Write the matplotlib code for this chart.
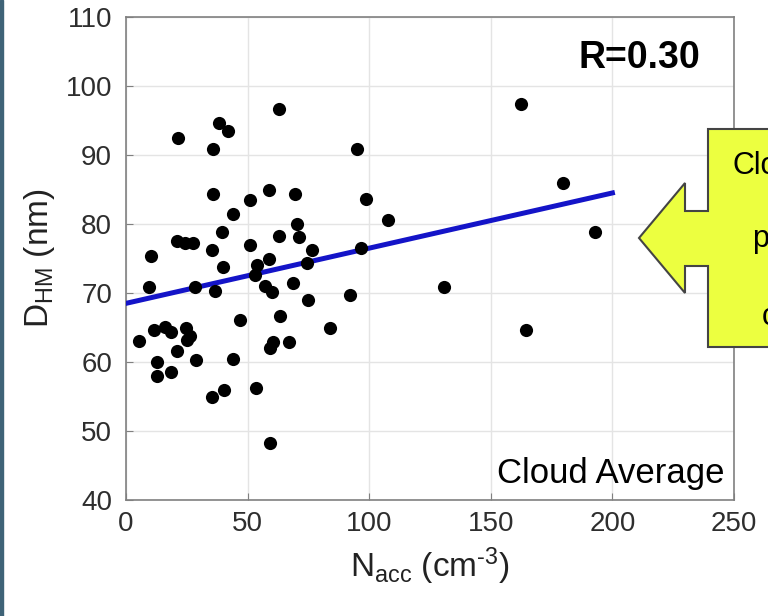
import numpy as np
import matplotlib
matplotlib.use('Agg')
import matplotlib.pyplot as plt
from matplotlib.patches import Polygon, Rectangle

# accumulation mode number conc. (cm^-3) vs Hoppel minimum diameter (nm), cloud averages
n_acc = [5.5, 9.5, 10.3, 11.5, 12.6, 12.6, 16.0, 18.4, 18.5, 21.1,
         21.1, 21.5, 24.3, 24.5, 25.2, 26.3, 27.7, 28.4, 28.8, 35.5,
         35.5, 35.9, 35.9, 36.6, 38.4, 39.6, 40.0, 40.3, 42.1, 44.1,
         44.1, 46.9, 51.0, 51.0, 53.0, 53.3, 53.7, 57.2, 58.9, 58.9,
         59.2, 59.2, 59.9, 60.6, 62.9, 62.9, 63.3, 67.0, 68.8, 69.5,
         70.4, 71.3, 74.3, 75.0, 76.3, 83.9, 92.2, 95.1, 96.6, 98.5,
         107.9, 130.8, 162.3, 164.3, 179.5, 192.8]
d_hm = [63.0, 70.8, 75.4, 64.7, 60.0, 58.0, 65.1, 64.4, 58.5, 61.6,
        77.6, 92.4, 77.3, 65.0, 63.2, 63.8, 77.3, 70.9, 60.3, 54.9,
        76.3, 84.4, 90.9, 70.3, 94.7, 78.8, 73.7, 56.0, 93.5, 81.5,
        60.5, 66.1, 83.5, 76.9, 72.6, 56.3, 74.1, 71.0, 85.0, 74.9,
        48.3, 62.1, 70.2, 62.9, 96.6, 78.3, 66.6, 62.9, 71.4, 84.3,
        80.0, 78.1, 74.3, 69.0, 76.2, 65.0, 69.7, 90.8, 76.5, 83.6,
        80.6, 70.8, 97.4, 64.6, 85.9, 78.8]

# fitted line
fit_intercept = 68.5
fit_slope = 0.08
fit_x = [0, 200]
r_text = 'R=0.30'

W, H = 768, 616
plt.rcParams['font.family'] = ['Liberation Sans', 'DejaVu Sans']
plt.rcParams['mathtext.fontset'] = 'custom'
plt.rcParams['mathtext.rm'] = 'Liberation Sans'
plt.rcParams['mathtext.it'] = 'Liberation Sans'

fig = plt.figure(figsize=(W / 100, H / 100), dpi=100)
ax = fig.add_axes([126 / W, 1 - 500 / H, 608 / W, 483 / H])

fx = np.array(fit_x)
ax.plot(fx, fit_intercept + fit_slope * fx, color='#1414c8', lw=3.6, zorder=3)
ax.scatter(n_acc, d_hm, s=90, color='black', zorder=4, linewidths=0)

ax.set_xlim(0, 250)
ax.set_ylim(40, 110)
ax.set_xticks(range(0, 251, 50))
ax.set_yticks(range(40, 111, 10))
ax.grid(True, color='#e4e4e4', lw=1)
ax.set_axisbelow(True)
for s in ax.spines.values():
    s.set_color('#808080')
    s.set_linewidth(1.2)
ax.tick_params(direction='in', length=5, color='#808080', labelsize=20,
               labelcolor='#2e2e2e', top=False, right=False)
ax.tick_params(axis='x', pad=8)
ax.tick_params(axis='y', pad=10)

ax.set_xlabel(r'N$_{\mathrm{acc}}$ (cm$^{\text{-3}}$)', fontsize=24, color='#222222', labelpad=6)
ax.set_ylabel(r'D$_{\mathrm{HM}}$ (nm)', fontsize=24, color='#222222', labelpad=6)

ax.text(0.945, 0.915, r_text, transform=ax.transAxes, ha='right', va='center',
        fontsize=27, fontweight='bold')
ax.text(0.985, 0.055, 'Cloud Average', transform=ax.transAxes, ha='right', va='center',
        fontsize=25)

# left border strip
fig.patches.append(Rectangle((0, 0), 3 / W, 1, transform=fig.transFigure,
                             color='#3f6377', zorder=10))

# yellow callout arrow on the right, cut off by the figure edge (as in the source)
pts = [(639, 238), (685, 183), (685, 211), (708, 211), (708, 129), (780, 129),
       (780, 347), (708, 347), (708, 266), (685, 266), (685, 293)]
poly = Polygon([(x / W, 1 - y / H) for x, y in pts], closed=True,
               transform=fig.transFigure, facecolor='#ecff40', edgecolor='#444444',
               lw=1.5, zorder=10)
fig.patches.append(poly)
for txt, x, y in [('Clo', 733, 174), ('p', 752, 247), ('c', 762, 325)]:
    fig.text(x / W, 1 - y / H, txt, fontsize=22, ha='left', va='baseline', zorder=11)

fig.savefig('out.png', dpi=100)
